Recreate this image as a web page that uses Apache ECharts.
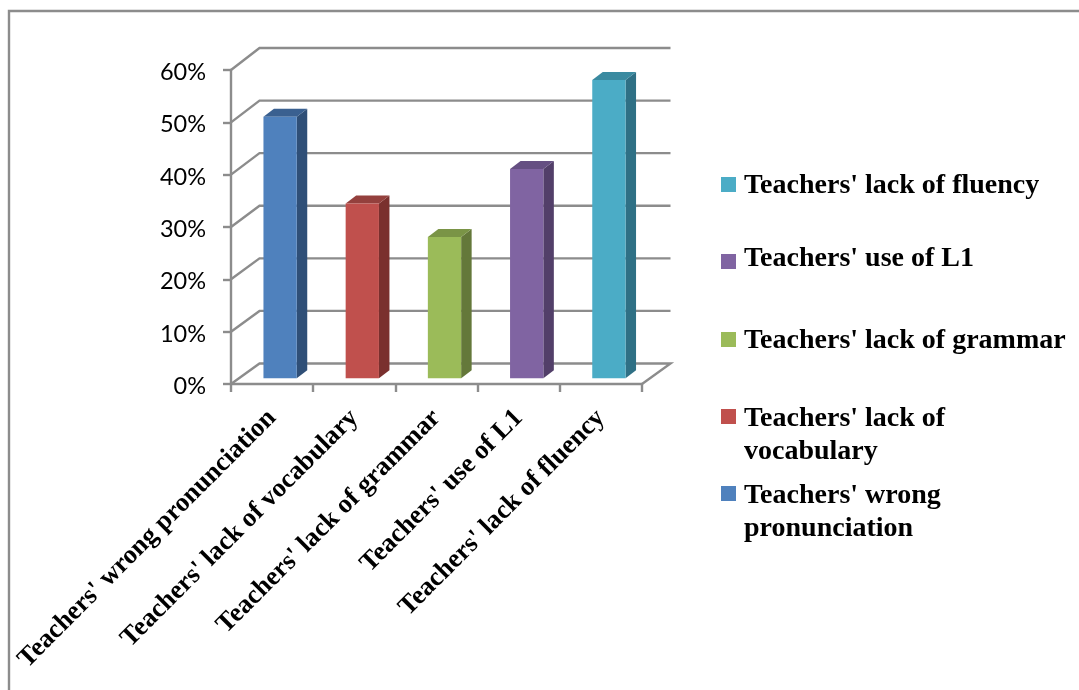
<!DOCTYPE html>
<html><head><meta charset="utf-8">
<style>html,body{margin:0;padding:0;background:#fff}#c{width:1079px;height:690px}</style>
<script src="https://cdn.jsdelivr.net/npm/echarts@6/dist/echarts.min.js"></script>
</head><body><div id="c"></div>
<script>
const categories = ["Teachers' wrong pronunciation","Teachers' lack of vocabulary","Teachers' lack of grammar","Teachers' use of L1","Teachers' lack of fluency"];
const values = [0.50,0.334,0.27,0.40,0.57];
const colors = ['#4F81BD','#C0504D','#9BBB59','#8064A2','#4BACC6'];
const sideColors = ['#2F4F77','#7A302E','#64783A','#523F69','#2F7085'];
const topColors = ['#3A6090','#94403D','#7A9446','#654F82','#3A8AA0'];
const gridTicks = [0,0.1,0.2,0.3,0.4,0.5,0.6];
const legendOrder = [4,3,2,1,0];
const legendTexts = ["Teachers' lack of fluency","Teachers' use of L1","Teachers' lack of grammar","Teachers' lack of\nvocabulary","Teachers' wrong\npronunciation"];
const legendCenters = [186,259,341,435.4,512];
const legendSwatchTops = [177,254,332,409,486];

const LINE='#8C8C8C', LW=2.4;
const wallDX=28.5;
const barDX=8, barDY=-5.7, depthX=10.5, depthY=-8;
const ITEM_H=70;

const chart = echarts.init(document.getElementById('c'),null,{renderer:'canvas'});

const barSeries = categories.map((name,i)=>({
  name, type:'custom', coordinateSystem:'cartesian2d', z:5,
  itemStyle:{color:colors[i]},
  data:[[i,values[i]]], encode:{x:0,y:1},
  renderItem(params,api){
    const top=api.coord([api.value(0),api.value(1)]);
    const base=api.coord([api.value(0),0]);
    const w=api.size([1,0])[0]*0.405;
    const x0=top[0]-w/2+barDX, x1=x0+w, yt=top[1]+barDY, yb=base[1]+barDY;
    return {type:'group',children:[
      {type:'polygon',shape:{points:[[x1,yt],[x1+depthX,yt+depthY],[x1+depthX,yb+depthY],[x1,yb]]},style:{fill:sideColors[i]}},
      {type:'polygon',shape:{points:[[x0,yt],[x1,yt],[x1+depthX,yt+depthY],[x0+depthX,yt+depthY]]},style:{fill:topColors[i]}},
      {type:'rect',shape:{x:x0,y:yt,width:w,height:yb-yt},style:{fill:colors[i]}}
    ]};
  }
}));

const wallSeries = {
  name:'wall', type:'custom', coordinateSystem:'cartesian2d', z:1, silent:true,
  data:gridTicks.map(v=>[0,v]), encode:{y:1},
  renderItem(params,api){
    const v=api.value(1);
    const p=api.coord([0,v]);
    const g=params.coordSys;
    const lx=g.x, rx=g.x+g.width;
    const dy=-20.5-v*2.5;
    const pts=[[lx,p[1]],[lx+wallDX,p[1]+dy],[rx+wallDX,p[1]+dy]];
    if(v===0) pts.push([rx,p[1]]);
    return {type:'polyline',shape:{points:pts},style:{stroke:LINE,lineWidth:LW,fill:null}};
  }
};

chart.setOption({
  animation:false,
  backgroundColor:'#fff',
  grid:{left:231,right:437,top:70,bottom:306,containLabel:false,outerBoundsMode:'none'},
  xAxis:{type:'category',data:categories,boundaryGap:true,
    axisLine:{lineStyle:{color:LINE,width:LW}},
    axisTick:{show:true,length:8,alignWithLabel:false,lineStyle:{color:LINE,width:LW}},
    axisLabel:{interval:0,rotate:45,margin:30,color:'#000',fontFamily:'Liberation Serif',fontWeight:'bold',fontSize:26.5},
    splitLine:{show:false}},
  yAxis:{type:'value',min:0,max:0.6,interval:0.1,
    axisLine:{show:true,lineStyle:{color:LINE,width:LW}},
    axisTick:{show:true,length:8,lineStyle:{color:LINE,width:LW}},
    axisLabel:{margin:25,verticalAlign:'top',lineHeight:5,color:'#000',fontFamily:'Lato',fontSize:23.5,formatter:v=>Math.round(v*100)+'%'},
    splitLine:{show:false}},
  legend:legendOrder.map((c,k)=>{
    const top=legendCenters[k]-ITEM_H/2;
    const s=legendSwatchTops[k]-top;
    return {
      show:true,data:[categories[c]],orient:'vertical',left:721,top,padding:0,
      itemWidth:15,itemHeight:ITEM_H,
      icon:'path://M0 '+s+'H15V'+(s+15)+'H0Z M0 0L0 0ZM0 '+ITEM_H+'L0 '+ITEM_H+'Z',
      selectedMode:false,
      formatter:()=>legendTexts[k],
      textStyle:{color:'#000',fontFamily:'Liberation Serif',fontWeight:'bold',fontSize:28,lineHeight:33,padding:[0,0,0,3]}
    };
  }),
  graphic:[{type:'polyline',silent:true,z:0,shape:{points:[[9,690],[9,11],[1079,11]]},style:{stroke:LINE,lineWidth:LW,fill:null}}],
  series:[wallSeries,...barSeries]
});
</script></body></html>
